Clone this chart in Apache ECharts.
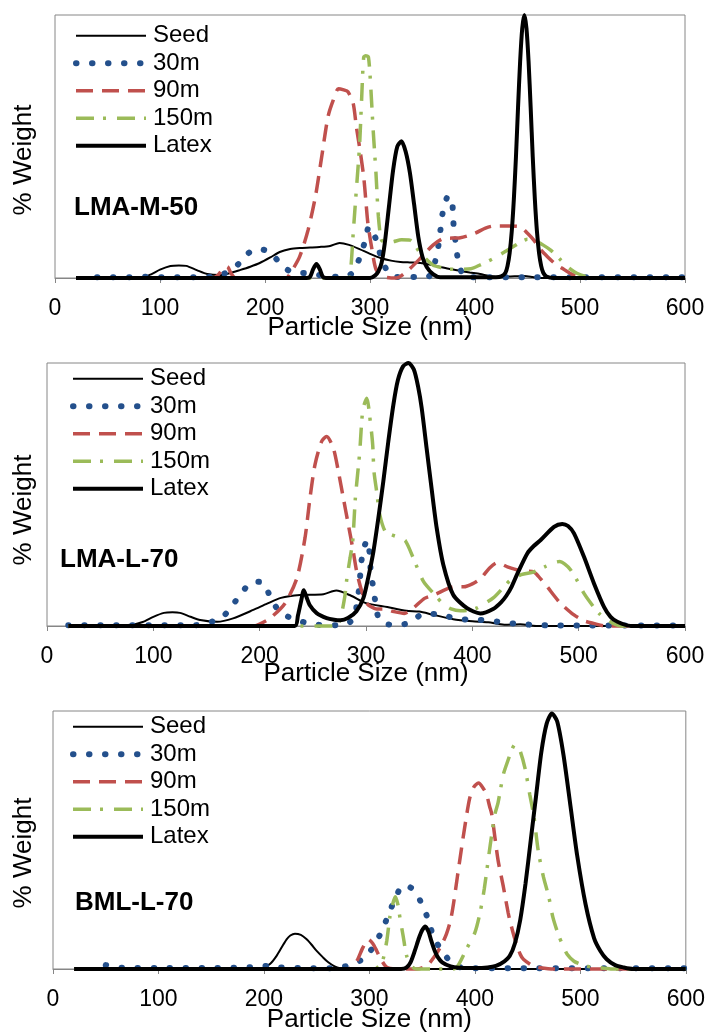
<!DOCTYPE html>
<html><head><meta charset="utf-8">
<script src="https://cdn.jsdelivr.net/npm/echarts@6/dist/echarts.min.js"></script>
<style>html,body{margin:0;padding:0;background:#fff}#c{width:708px;height:1034px}</style>
</head><body><div id="c"></div>
<script>
// ---------- data ----------
const seriesNames = ['Seed', '30m', '90m', '150m', 'Latex'];
const panelLabels = ['LMA-M-50', 'LMA-L-70', 'BML-L-70'];
const xTickValues = [0, 100, 200, 300, 400, 500, 600];
const xTitle = 'Particle Size (nm)';
const yTitle = '% Weight';

// Panel 1: LMA-M-50  [size nm, relative % weight]
const seed1 = [[20,0],[60,0],[85,0.4],[92,1.5],[100,3.2],[110,4.6],[118,4.8],[125,4.6],[135,3.0],[145,1.5],[157,1.1],[166,1.8],[176,3.0],[186,4.3],[195,5.7],[205,7.8],[214,9.9],[224,11],[233,11.4],[243,11.6],[252,11.8],[262,12.2],[271,13.3],[280,12.6],[290,11.0],[300,9.2],[310,7.6],[320,6.6],[329,6.1],[338,5.9],[348,5.7],[358,5],[367,4.2],[376,3.4],[386,2.7],[395,2.1],[405,1.5],[413,0.8],[421,0.4],[434,0.6],[447,0.8],[455,0.4],[462,0],[600,0]];
const m30_1 = [[40,0.3],[55,0.3],[71,0.3],[87,0.5],[102,0.3],[117,0.3],[133,0.3],[149,0.5],[160,1.5],[168,3],[176,5.8],[187,10.4],[194,11],[200,10.6],[207,9],[213,6.2],[224,2.5],[240,1.8],[255,1],[268,0.5],[280,1],[284,2.4],[290,7.5],[295,13.6],[299,19.5],[302,18],[306,14.4],[310,8.7],[316,3],[325,0.4],[355,0.4],[360,3],[362,6.2],[365,11.9],[367,18],[369,24.3],[373,30.3],[375.5,31],[378,30.3],[379,24.3],[380,18],[382,12.4],[384,6.2],[388,1.5],[392,0.3],[600,0.3]];
const m90_1 = [[20,0],[150,0],[155,1],[160,3.5],[164,4.3],[168,1.5],[172,0],[220,0],[225,2.4],[233,8.1],[241,18.2],[248,30.9],[254,46.1],[260,61.3],[265,67.6],[270,72],[275,71.5],[279,70.8],[284,66.4],[287,57.5],[290.5,48.6],[294,38.5],[296,29.6],[298,20.8],[302,10.6],[306,3],[313,0.5],[325,0],[335,2.5],[348,7.5],[360,12.5],[370,15],[386,15.3],[400,17],[410,19],[418,19.8],[432,19.8],[443,19.5],[450,17],[456,14.4],[462,11],[469,8.1],[476,5.5],[483,3.7],[492,1.5],[500,0.4],[510,0],[600,0]];
const m150_1 = [[20,0],[280,0],[282,5],[284,17],[287,33.5],[290,50],[292,67.7],[294,84],[296,84.5],[298.5,84],[300.6,73.4],[303,56.3],[305.7,39.8],[308,23.3],[311,14.4],[316,13.5],[322,13.8],[330,14.5],[338,14.4],[348,9.4],[360,4.9],[370,3.8],[380,3.3],[396,3.5],[405,5],[418,7.5],[434,11.3],[445,14],[450,14.7],[458,14],[465,12.5],[472,10.6],[480,7.5],[488,4.3],[497,1.8],[507,0.4],[515,0],[600,0]];
const latex1 = [[20,0],[240,0],[243,0.5],[246,3.5],[249,5.3],[252,3.5],[255,0.5],[258,0],[300,0],[305,1],[308,2.5],[311,5.7],[314,13],[318,27],[322,41],[326,50],[330,52],[334,48],[338,40],[342,28],[346,15.7],[350,8],[354,4.2],[360,1.5],[367,0.3],[420,0.3],[425,0.6],[429,2],[431,4.6],[433,9.5],[435,17.7],[437,30],[439,46],[441,65],[443,82.5],[445,95],[447,100],[449,95],[451,82.5],[453,65],[455,46],[457,30],[459,17.7],[461,9.5],[463,4.6],[465,2],[468,0.6],[475,0],[600,0]];

// Panel 2: LMA-L-70
const seed2 = [[20,0],[80,0.5],[90,1.5],[100,3.5],[110,5],[118,5.2],[125,5],[135,3.5],[144,2.3],[160,1.6],[175,2.9],[194,6.1],[207,8.5],[220,10.7],[238,11.8],[260,12.1],[272,13.5],[286,11.5],[300,8.7],[320,7.2],[338,5.8],[350,5.5],[363,4.3],[382,2.6],[400,1.8],[415,1.4],[430,0.5],[445,0.7],[460,0],[600,0]];
const m30_2 = [[20,0.3],[140,0.3],[145,1],[161,2.3],[172,6.3],[180,11.1],[190,15.8],[197,16.8],[203,16.6],[210,11.1],[218,5.8],[230,2.9],[244,1.2],[260,0.3],[276,0.3],[285,1.5],[290,4.3],[291.5,9.8],[293.7,14.4],[295,21.8],[297,28.1],[301,32.6],[303.8,26.5],[304.4,20.8],[307,14.4],[312.5,2.4],[326,0.3],[341,1.2],[354,4.6],[368,4.6],[383,2.9],[398,2.4],[413,2.2],[428,1.4],[443,0.8],[459,0.4],[475,0.2],[600,0.2]];
const m90_2 = [[20,0],[195,0],[200,0.7],[210,3],[224,8.7],[235,18.2],[242.6,33.4],[247.3,48.6],[252,61.3],[258.3,70.2],[263,72.1],[269.3,67.6],[274,58.8],[278.7,48.6],[283.4,38.5],[287.5,29.6],[291.2,20.8],[296,13.2],[300.7,8.7],[304,7.5],[310,6.5],[317,6.5],[326,5.5],[336,4.8],[345,7],[355,10.5],[364,11.8],[383,14.9],[392,14.9],[400,16],[408,18.1],[416,22],[423.5,24.1],[433,22.5],[445.5,21],[458,20.5],[464,18],[470.5,14.9],[477,11.5],[483,8.6],[495.6,4.2],[505,2],[514,1],[525,0],[600,0]];
const m150_2 = [[20,0],[272,0],[276,3],[280,11],[282,18],[285,25.8],[287.5,32.2],[290,48.6],[294,65.7],[297,82.2],[300.7,86.6],[304.4,76.5],[306.3,68.9],[307.5,58.8],[310,51.2],[313,42.3],[318,36],[324,34.7],[330,33.8],[337,32.4],[344.5,25.8],[354,17],[366,11.3],[372,8.6],[380,6.5],[389,5.8],[397,6],[405,7],[420,10.8],[436,17.5],[446,19.5],[458,20.6],[468,22.5],[477,24.1],[482,24.5],[487,23.5],[492.5,21.3],[499,17],[505,12.4],[514,7.3],[520,4.5],[527,2.3],[535,0.5],[540,0],[600,0]];
const latex2 = [[20,0],[233,0],[236,4],[239,9.5],[241.5,13.6],[244,11],[247,8],[253.6,4.9],[263,3],[270,2.4],[276,2.2],[283,3],[291,5.6],[297.5,10.6],[302,18.2],[307,28.4],[311.6,41],[316.3,55],[321,70.2],[325.7,84],[330,93.5],[335,98.8],[340,100],[345,97.5],[349,91],[352.4,82.8],[357,67.6],[362,51.2],[366.5,37.2],[372.7,23.3],[382,11.9],[395,6.8],[407.5,4.8],[420,6.6],[427,9],[432,11.5],[437,15],[442.5,20],[451.7,27.6],[458,30.5],[464.3,32.7],[476.8,37.7],[484.6,38.8],[490,38],[495.6,35.2],[505,26.3],[514.4,16.2],[523.8,7.3],[530,3.5],[536.4,1.6],[549,0],[600,0]];

// Panel 3: BML-L-70
const seed3 = [[20,0],[195,0],[200,0.5],[206,2],[212,5.1],[217,8.5],[221.5,11.5],[225,13],[229.4,13.7],[235,13.2],[240.5,11.5],[245,9.5],[250,7],[256,4.5],[261,2.6],[267,1],[272,0.3],[280,0],[600,0]];
const m30_3 = [[50,1.5],[55,1.2],[65,0.5],[100,0.4],[150,0.4],[190,0.7],[205,1.2],[215,0.6],[240,0.3],[270,0.3],[283,1.9],[290,3],[296.7,4.5],[301,7],[305,9.6],[312.5,15.3],[318,21.1],[324,26.8],[331.5,32.2],[337,32],[343,30.3],[350,24.9],[356,18.9],[360.5,12.8],[368,7.4],[377,2.8],[385,0.8],[392,0.3],[600,0.3]];
const m90_3 = [[20,0],[280,0],[285,1.5],[289,3.8],[294,8.5],[299,11.5],[303,10],[307,7],[310,4.5],[316,0.8],[325,0],[345,0],[355,1.5],[362,5],[368,9],[373,13.5],[377,19],[380,26],[383.5,36],[386,43],[390,54],[395,66],[399,70.5],[403.5,72.1],[408,70],[411,67.7],[414,63],[416,60],[419,51],[422,42.1],[427,31.9],[431.6,21.7],[434,17.5],[438,11.5],[443,5.7],[446,3.8],[455,1.2],[462,0.5],[475,0],[600,0]];
const m150_3 = [[20,0],[305,0],[310,1.5],[313,3.8],[316.5,11],[319.5,20.4],[322,25],[324.5,28],[327,25],[329,19.8],[332,12.8],[335.3,5.1],[340,1],[345,0],[380,0],[385,2],[392,7.7],[400,14.1],[405,22],[409,31.3],[414.5,47.9],[419,60],[422,64.5],[427,75.4],[431.6,81.1],[435,85],[438,87],[442,85.5],[447.5,77.9],[452,67.7],[456,59],[460,46],[465,35.7],[470,28.1],[474,20],[479,13.5],[483,9.5],[487.5,5.7],[494,3],[500,1.9],[510,0.8],[519,0.5],[530,0],[600,0]];
const latex3 = [[20,0],[330,0],[335,0.5],[339,2.6],[343,7],[347,12],[350,15],[353,16.5],[356,14.5],[359,10.5],[362,7],[365,4.5],[369,2.6],[377,1],[385,0.5],[400,0.4],[412,0.6],[420,1.2],[428,3],[433,5],[438,10],[443,19],[448,33],[453,50],[458,67],[463,84],[468,95],[473,99],[478,96],[484,83],[490.7,63],[497,44],[505,25],[513,12],[519,7],[525,3.8],[533,1.5],[541,0.6],[550,0],[600,0]];

const panelData = [
  [seed1, m30_1, m90_1, m150_1, latex1],
  [seed2, m30_2, m90_2, m150_2, latex2],
  [seed3, m30_3, m90_3, m150_3, latex3]
];

// ---------- styles / layout ----------
const FONT = 'Liberation Sans, Arial, sans-serif';
const lineStyles = {
  'Seed':  {color: '#000000', width: 2, type: 'solid'},
  '30m':   {color: '#24508C', width: 6, type: [0.5, 15.5], cap: 'round'},
  '90m':   {color: '#C0504D', width: 3.5, type: [17, 9]},
  '150m':  {color: '#9BBB59', width: 3.5, type: [18, 9, 3, 11]},
  'Latex': {color: '#000000', width: 4, type: 'solid'}
};
const grids = [
  {left: 55, top: 15, width: 630, height: 263},
  {left: 47, top: 363, width: 638, height: 263},
  {left: 53, top: 711, width: 633, height: 261}
];
const legendPos = [{left: 73, top: 22}, {left: 70, top: 365}, {left: 70, top: 713}];
const labelPos = [[74, 208], [60, 560], [75, 903]];
const yTitlePos = [[24, 160], [24, 510], [24, 853]];
const xNameGaps = [37, 35, 38];

const option = {
  animation: false,
  backgroundColor: '#fff',
  grid: grids.map(g => Object.assign({show: true, borderColor: '#868686', borderWidth: 1, backgroundColor: 'transparent'}, g)),
  xAxis: grids.map((g, i) => ({
    type: 'value', gridIndex: i, min: 0, max: 600, interval: 100,
    axisLine: {show: true, lineStyle: {color: '#868686', width: 1}},
    axisTick: {show: true, length: 5, lineStyle: {color: '#868686'}},
    axisLabel: {fontSize: 23, color: '#000', margin: 19, fontFamily: FONT,
      formatter: v => xTickValues.includes(v) ? String(v) : ''},
    splitLine: {show: false},
    name: xTitle, nameLocation: 'middle', nameGap: xNameGaps[i], nameMoveOverlap: false,
    nameTextStyle: {fontSize: 26, color: '#000', fontFamily: FONT}
  })),
  yAxis: grids.map((g, i) => ({
    type: 'value', gridIndex: i, min: 0, max: 100,
    axisLine: {show: false}, axisTick: {show: false}, axisLabel: {show: false},
    splitLine: {show: false}
  })),
  legend: grids.map((g, i) => ({
    orient: 'vertical', left: legendPos[i].left, top: legendPos[i].top, padding: 0,
    itemWidth: 70, itemHeight: 14, itemGap: 0, selectedMode: false,
    textStyle: {fontSize: 24, color: '#000', fontFamily: FONT, lineHeight: 27.5, padding: [0, 0, 0, 2]},
    data: seriesNames.map(n => ({
      name: n,
      itemStyle: {opacity: 0},
      lineStyle: Object.assign({}, lineStyles[n])
    }))
  })),
  series: [],
  graphic: []
};

panelData.forEach((arrs, p) => {
  arrs.forEach((d, k) => {
    const n = seriesNames[k];
    option.series.push({
      type: 'line', name: n, xAxisIndex: p, yAxisIndex: p, data: d,
      showSymbol: false, symbol: 'none', smooth: 0.25, clip: false,
      lineStyle: Object.assign({}, lineStyles[n]),
      emphasis: {disabled: true}
    });
  });
  option.graphic.push({
    type: 'text', x: labelPos[p][0], y: labelPos[p][1],
    style: {text: panelLabels[p], font: 'bold 26px ' + FONT, fill: '#000', textAlign: 'left', textVerticalAlign: 'middle'}
  });
  option.graphic.push({
    type: 'text', x: yTitlePos[p][0], y: yTitlePos[p][1], rotation: Math.PI / 2,
    style: {text: yTitle, font: '26px ' + FONT, fill: '#000', textAlign: 'center', textVerticalAlign: 'middle'}
  });
});

const chart = echarts.init(document.getElementById('c'), null, {renderer: 'canvas'});
chart.setOption(option);
</script>
</body></html>
